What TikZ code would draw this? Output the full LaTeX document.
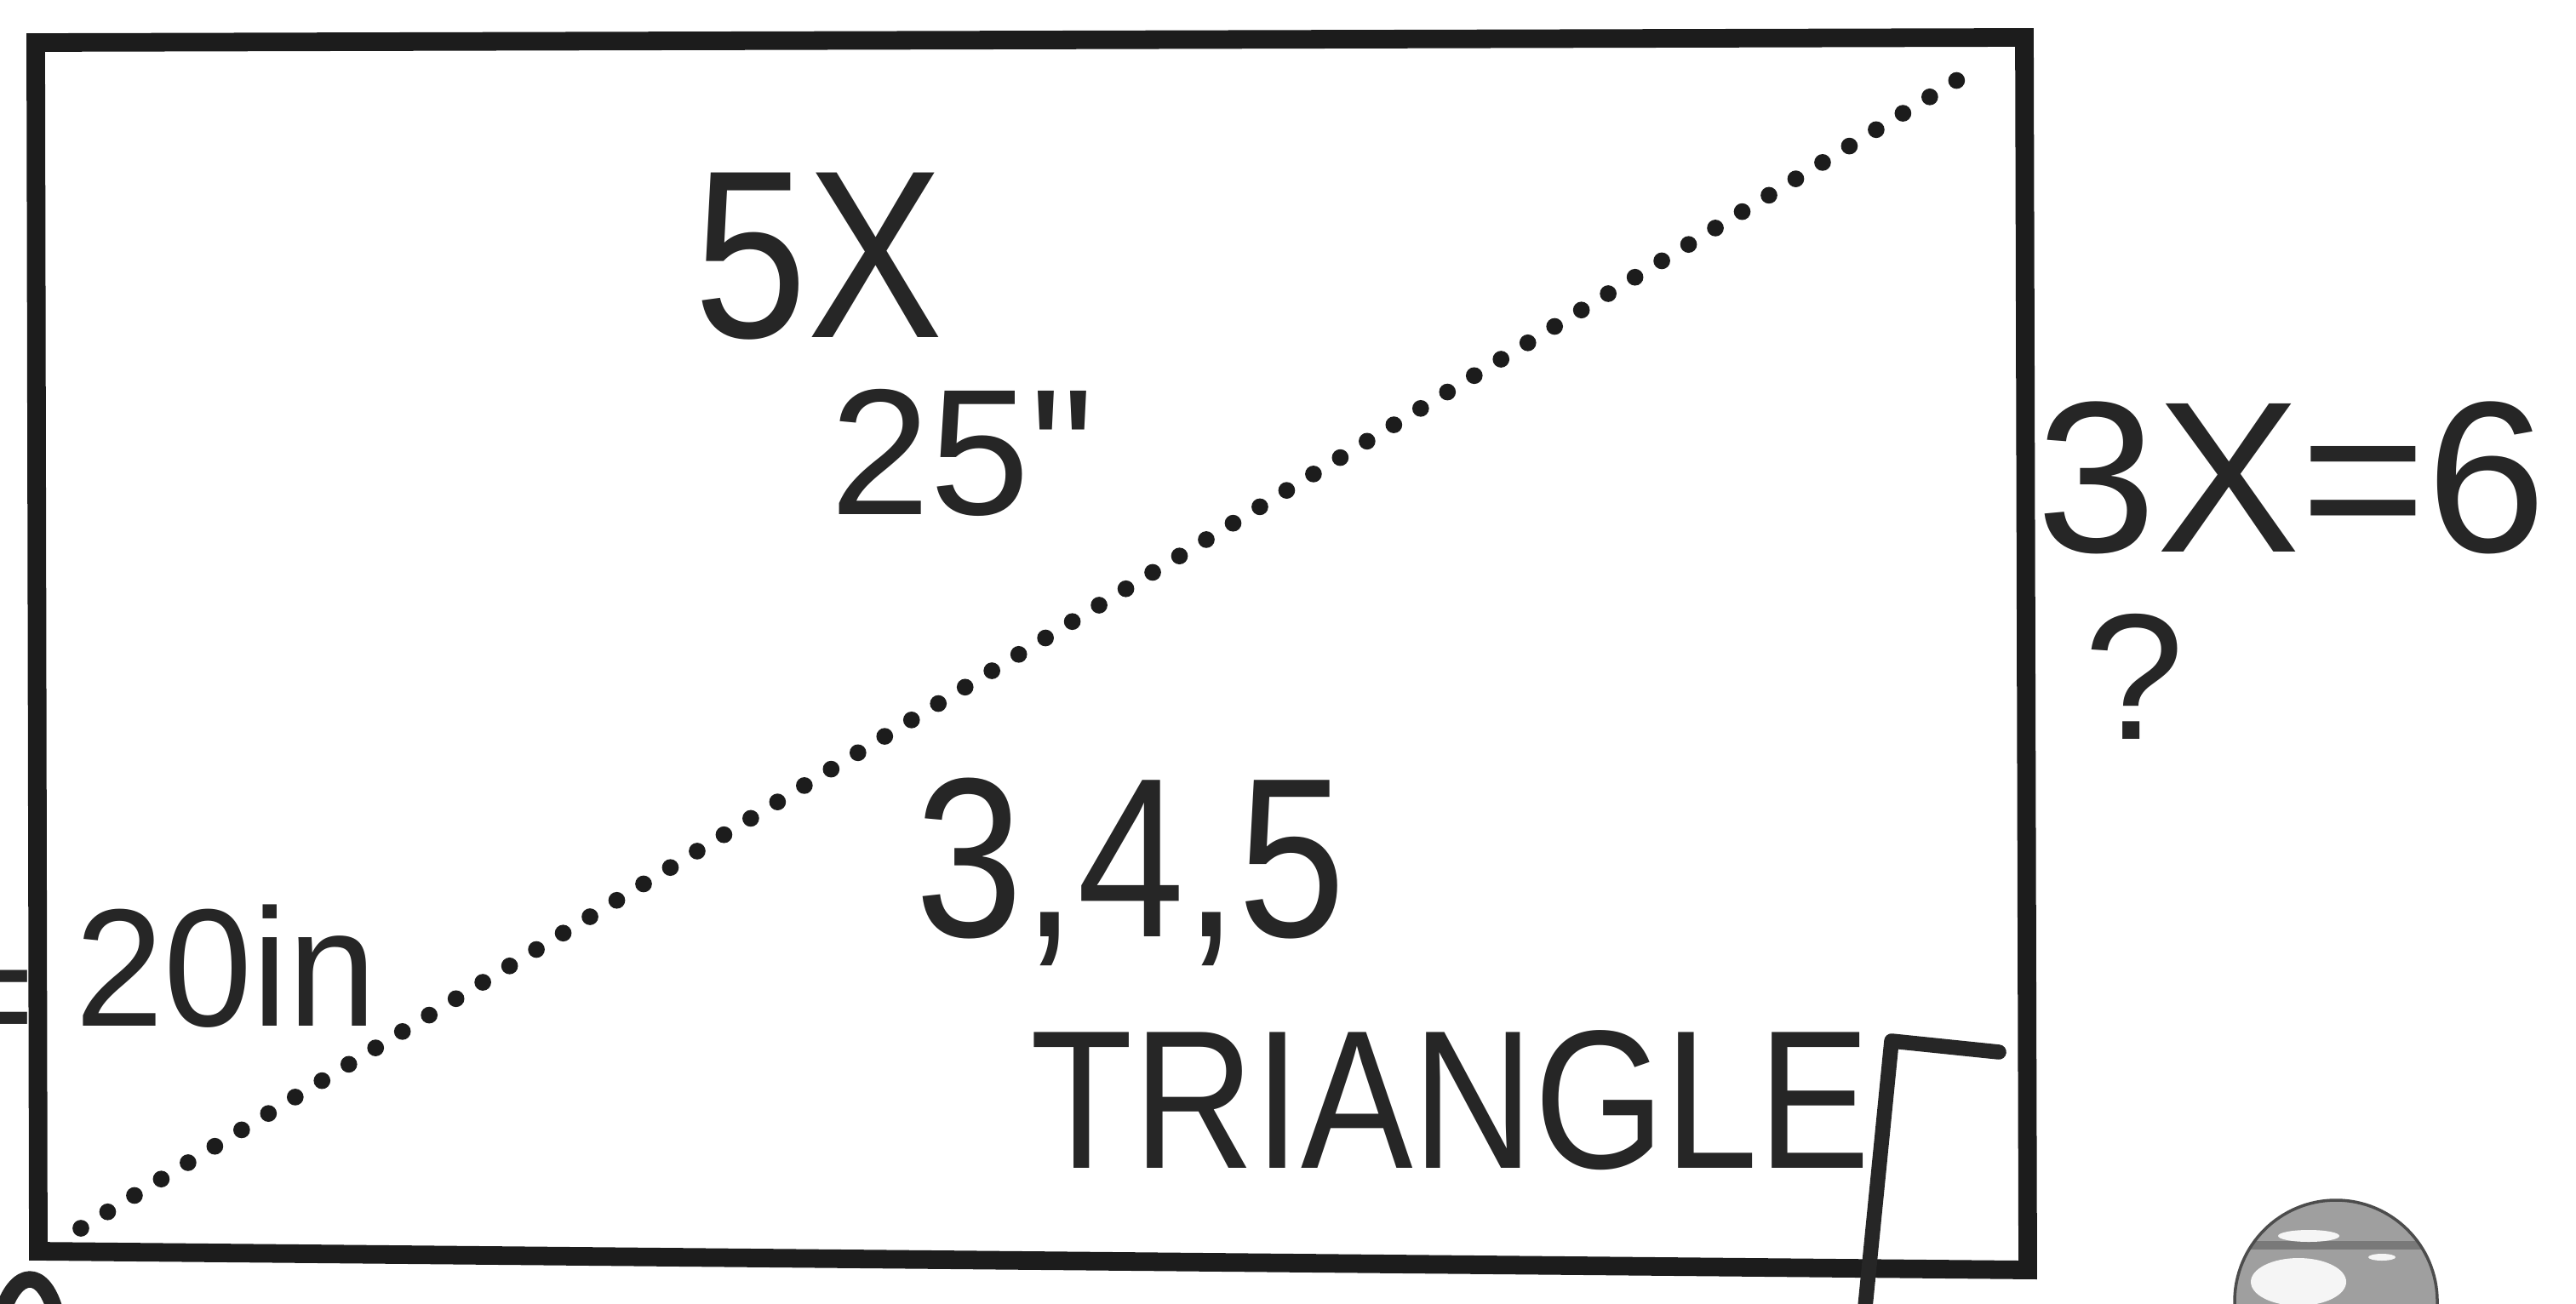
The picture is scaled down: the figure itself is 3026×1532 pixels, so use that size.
\documentclass[tikz,border=0pt]{standalone}
\usepackage{fontspec}
\setmainfont{Liberation Sans}
\newfontfamily\handfont[FakeStretch=0.85]{Liberation Sans}
\newfontfamily\plainfont[Ligatures=TeXOff]{Liberation Sans}
\usetikzlibrary{positioning}
\definecolor{ink}{HTML}{262626}
\definecolor{pen}{HTML}{1C1C1C}

\begin{document}
\begin{tikzpicture}[x=0.1mm, y=-0.1mm,
    every node/.style={inner sep=0pt, text=ink},
    frame/.style={draw=pen, line width=6.2pt, line join=miter},
    hyp/.style={draw=pen, line width=5.6pt, line cap=round, dash pattern=on 0pt off 10.5pt},
    stroke/.style={draw=ink, line width=5pt, line cap=round, line join=round}]
  \useasboundingbox (0,0) rectangle (3026,1532);
  \clip (0,0) rectangle (3026,1532);

  % screen outline and its diagonal
  \draw[frame] (42,50) -- (2378,44) -- (2382,1492) -- (45,1470) -- cycle;
  \coordinate (lo) at (95,1443);
  \coordinate (hi) at (2327,77);
  \draw[hyp] (lo) -- (hi);

  % labels
  \node[anchor=base west, font=\handfont\fontsize{80}{80}\selectfont] (fivex) at (815,396) {5X};
  \node[anchor=base west, font=\fontsize{60}{60}\selectfont] (diag) at (975,604) {25{\plainfont"}};
  \node[anchor=base west, font=\fontsize{72}{72}\selectfont] (side) at (2392,648) {3X=6};
  \node[anchor=base west, font=\fontsize{60}{60}\selectfont] (ask) at (2448,868) {?};
  \node[anchor=base west, font=\handfont\fontsize{76}{76}\selectfont] (triple) at (1075,1100) {3,4,5};
  \node[anchor=base west, font=\handfont\fontsize{66}{66}\selectfont] (kind) at (1210,1372) {TRIANGLE};
  \node[anchor=base west, font=\fontsize{56}{56}\selectfont] (width) at (88,1205) {\scalebox{0.95}[1]{20in}};
  \node[anchor=base east, font=\fontsize{56}{56}\selectfont] (eq) at (36,1236) {\scalebox{0.35}[1]{=}};

  % right angle mark
  \coordinate (rbot) at (2190,1545);
  \coordinate (rknee) at (2222,1223);
  \coordinate (rend) at (2348,1236);
  \draw[stroke] (rbot) -- (rknee) -- (rend);

  % stray stroke under the corner
  \draw[stroke, line width=5.5pt] (2,1545) .. controls (18,1490) and (52,1488) .. (66,1545);

  % grey ball
  \begin{scope}
    \clip (2744,1529) circle (119);
    \fill[gray!75] (2744,1529) circle (119);
    \fill[gray!95!black] (2640,1458) rectangle (2850,1468);
    \fill[white!92!gray] (2712,1452) ellipse (36 and 7);
    \fill[white!92!gray] (2700,1506) ellipse (56 and 28);
    \fill[white!92!gray] (2798,1477) ellipse (16 and 4);
  \end{scope}
  \draw[gray!60!black, line width=1pt] (2744,1529) circle (119);
\end{tikzpicture}
\end{document}
